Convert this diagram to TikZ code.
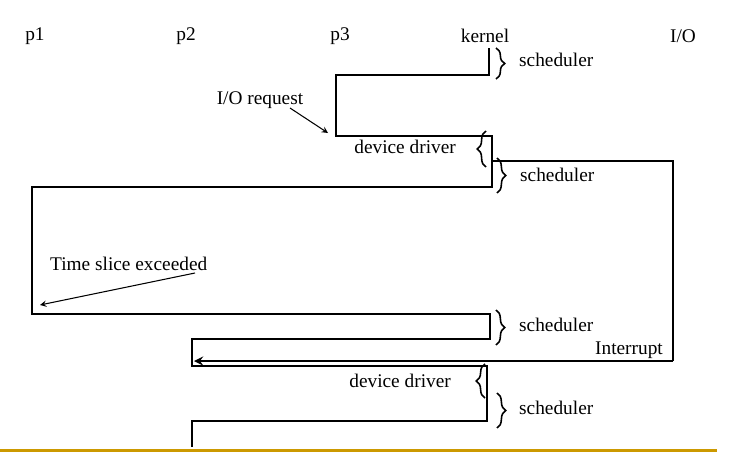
\documentclass[tikz,border=0pt]{standalone}
\usepackage{fontspec}
\setmainfont{Liberation Serif}
\usetikzlibrary{decorations.pathreplacing}

\begin{document}
\begin{tikzpicture}[x=0.02cm, y=-0.02cm, font=\fontsize{11}{13}\selectfont,
  trace/.style={black, line width=1.3pt},
  pointer/.style={->, >=stealth, black, line width=0.6pt},
  brc/.style={decorate, decoration={brace, amplitude=5pt}, line width=0.9pt}]

\useasboundingbox (0,0) rectangle (735,453);

% === COLUMN HEADERS ===
\node (p1) at (35,36) {p1};
\node (p2) at (186,36) {p2};
\node (p3) at (340,36) {p3};
\node (kern) at (485,36) {kernel};
\node (io) at (683,36) {I/O};

% === TRACE COORDINATES ===
\coordinate (k0) at (489,48);
\coordinate (k1) at (489,75);
\coordinate (t1) at (336,75);
\coordinate (t2) at (336,136);
\coordinate (k2) at (492,136);
\coordinate (k3) at (492,161);
\coordinate (io1) at (673,161);
\coordinate (io2) at (673,361);
\coordinate (irq) at (194,361);
\coordinate (k4) at (492,187);
\coordinate (a1) at (32,187);
\coordinate (a2) at (32,314);
\coordinate (k5) at (490,314);
\coordinate (k6) at (490,339);
\coordinate (b1) at (192,339);
\coordinate (b2) at (192,366);
\coordinate (k7) at (487,366);
\coordinate (k8) at (487,421);
\coordinate (b3) at (192,421);
\coordinate (b4) at (192,447);

% p3 runs, then kernel hands over to p1, p2
\draw[trace] (k0) -- (k1) -- (t1) -- (t2) -- (k2) -- (k4) -- (a1) -- (a2) -- (k5) -- (k6) -- (b1) -- (b2) -- (k7) -- (k8) -- (b3) -- (b4);

% I/O device and its interrupt
\draw[trace] (k3) -- (io1) -- (io2);
\draw[trace, ->, >=stealth] (io2) -- (irq);

% === BRACES ===
\draw[brc] (496,48) -- (496,79);
\draw[brc] (486,167) -- (486,131);
\draw[brc] (497,158) -- (497,193);
\draw[brc] (496,310) -- (496,345);
\draw[brc] (485,398) -- (485,364);
\draw[brc] (497,393) -- (497,428);

% === LABELS ===
\node[anchor=west] (s1) at (513,60) {scheduler};
\node[anchor=west] (s2) at (514,175) {scheduler};
\node[anchor=west] (s3) at (513,325) {scheduler};
\node[anchor=west] (s4) at (513,408) {scheduler};
\node[anchor=east] (dd1) at (462,147) {device driver};
\node[anchor=east] (dd2) at (457,381) {device driver};
\node[anchor=east] (intr) at (669,350) {Interrupt};
\node (ioreq) at (260,100) {I/O request};
\node[anchor=west] (tslice) at (44,264) {Time slice exceeded};

% === ARROWS ===
\coordinate (ioreqtip) at (328,133);
\coordinate (tslicetip) at (40,305);
\draw[pointer] (290,108) -- (ioreqtip);
\draw[pointer] (195,273) -- (tslicetip);

% gold rule at the bottom
\draw[draw={rgb,255:red,204;green,153;blue,0}, line width=1.8pt] (0,450.5) -- (717,450.5);

\end{tikzpicture}
\end{document}
